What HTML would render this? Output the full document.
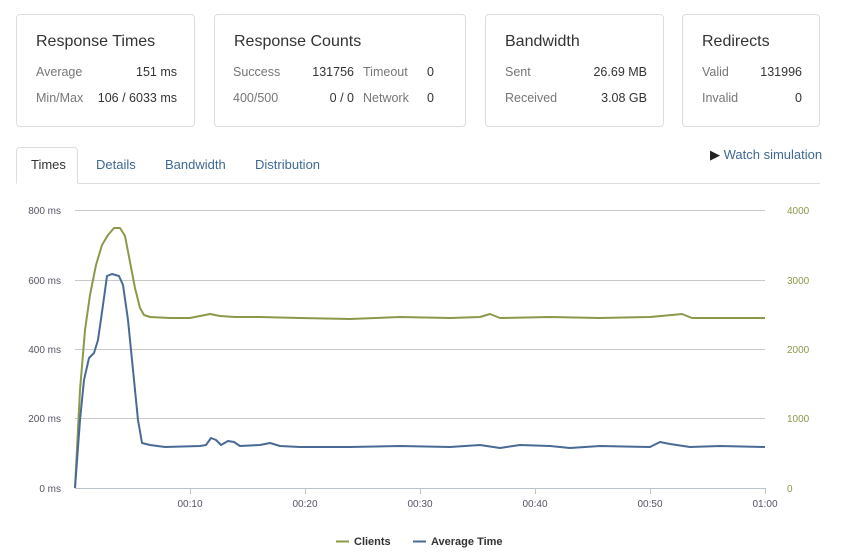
<!DOCTYPE html>
<html><head><meta charset="utf-8"><style>
body{margin:0;width:863px;height:555px;background:#fff;font-family:"Liberation Sans",sans-serif;position:relative;overflow:hidden}
.card{position:absolute;top:14px;height:113px;border:1px solid #ddd;border-radius:4px;box-sizing:border-box}
.card h3{position:absolute;left:19px;top:18px;margin:0;font-weight:normal;font-size:16px;color:#333}
.t{position:absolute;font-size:12.5px;color:#777}
.v{position:absolute;font-size:12.5px;color:#333;text-align:right}
.tab{position:absolute;top:157px;font-size:13px;color:#3d6a93}
</style></head><body>
<div class="card" style="left:16px;width:179px"><h3>Response Times</h3>
<div class="t" style="left:19px;top:50px">Average</div><div class="v" style="right:17px;top:50px">151 ms</div>
<div class="t" style="left:19px;top:76px">Min/Max</div><div class="v" style="right:17px;top:76px">106 / 6033 ms</div></div>
<div class="card" style="left:214px;width:252px"><h3>Response Counts</h3>
<div class="t" style="left:18px;top:50px">Success</div><div class="v" style="left:95px;width:44px;top:50px">131756</div>
<div class="t" style="left:148px;top:50px">Timeout</div><div class="v" style="left:212px;top:50px">0</div>
<div class="t" style="left:18px;top:76px">400/500</div><div class="v" style="left:95px;width:44px;top:76px">0 / 0</div>
<div class="t" style="left:148px;top:76px">Network</div><div class="v" style="left:212px;top:76px">0</div></div>
<div class="card" style="left:485px;width:179px"><h3>Bandwidth</h3>
<div class="t" style="left:19px;top:50px">Sent</div><div class="v" style="right:16px;top:50px">26.69 MB</div>
<div class="t" style="left:19px;top:76px">Received</div><div class="v" style="right:16px;top:76px">3.08 GB</div></div>
<div class="card" style="left:682px;width:138px"><h3>Redirects</h3>
<div class="t" style="left:19px;top:50px">Valid</div><div class="v" style="right:17px;top:50px">131996</div>
<div class="t" style="left:19px;top:76px">Invalid</div><div class="v" style="right:17px;top:76px">0</div></div>
<div style="position:absolute;left:16px;top:183px;width:804px;border-top:1px solid #ddd"></div>
<div style="position:absolute;left:16px;top:147px;width:62px;height:37px;border:1px solid #ddd;border-bottom:1px solid #fff;border-radius:4px 4px 0 0;box-sizing:border-box;background:#fff"></div>
<div class="tab" style="left:31px;color:#333">Times</div>
<div class="tab" style="left:96px">Details</div>
<div class="tab" style="left:165px">Bandwidth</div>
<div class="tab" style="left:255px">Distribution</div>
<div class="tab" style="left:710px;top:147px;font-size:13px"><span style="color:#222">&#9654;</span> Watch simulation</div>
<svg width="863" height="555" style="position:absolute;left:0;top:0" font-family="Liberation Sans,sans-serif">
<g stroke="#c8c8c8" stroke-width="1">
<line x1="75" x2="765" y1="210.5" y2="210.5"/><line x1="75" x2="765" y1="280.5" y2="280.5"/>
<line x1="75" x2="765" y1="349.5" y2="349.5"/><line x1="75" x2="765" y1="418.5" y2="418.5"/>
<line x1="75" x2="765" y1="488.5" y2="488.5" stroke="#b8c4d0"/>
<g stroke="#b8c4d0"><line x1="190.5" x2="190.5" y1="488" y2="494"/><line x1="305.5" x2="305.5" y1="488" y2="494"/><line x1="420.5" x2="420.5" y1="488" y2="494"/><line x1="535.5" x2="535.5" y1="488" y2="494"/><line x1="650.5" x2="650.5" y1="488" y2="494"/><line x1="765.5" x2="765.5" y1="488" y2="494"/></g>
</g>
<g font-size="10" fill="#556" text-anchor="end">
<text x="61" y="214">800 ms</text><text x="61" y="284">600 ms</text><text x="61" y="353">400 ms</text><text x="61" y="422">200 ms</text><text x="61" y="492">0 ms</text></g>
<g font-size="10" fill="#8a9a4a"><text x="787" y="214">4000</text><text x="787" y="284">3000</text><text x="787" y="353">2000</text><text x="787" y="422">1000</text><text x="787" y="492">0</text></g>
<g font-size="10" fill="#556" text-anchor="middle"><text x="190" y="507">00:10</text><text x="305" y="507">00:20</text><text x="420" y="507">00:30</text><text x="535" y="507">00:40</text><text x="650" y="507">00:50</text><text x="765" y="507">01:00</text></g>
<polyline fill="none" stroke="#8a9a4a" stroke-width="2" stroke-linejoin="round" points="75,488 80,390 85,330 90,295 96,265 102,245 108,235 114,228 120,228 125,236 130,262 135,288 140,308 144,315 150,317 170,318 190,318 200,316 210,314 220,316 235,317 260,317 300,318 350,319 400,317 450,318 480,317 490,314 500,318 550,317 600,318 650,317 672,315 682,314 692,318 765,318"/>
<polyline fill="none" stroke="#4a6a96" stroke-width="2" stroke-linejoin="round" points="75,488 80,420 84,380 89,358 94,353 98,340 103,305 107,276 112,274 119,276 123,285 128,320 133,370 138,420 142,443 150,445 165,447 200,446 206,445 211,438 216,440 221,445 228,441 234,442 240,446 260,445 270,443 280,446 300,447 350,447 400,446 450,447 480,445 500,448 520,445 550,446 570,448 600,446 650,447 660,442 670,444 690,447 720,446 765,447"/>
<line x1="336" x2="349" y1="541.5" y2="541.5" stroke="#8a9a4a" stroke-width="2"/>
<text x="354" y="545" font-size="11" font-weight="bold" fill="#333">Clients</text>
<line x1="413" x2="426" y1="541.5" y2="541.5" stroke="#4a6a96" stroke-width="2"/>
<text x="431" y="545" font-size="11" font-weight="bold" fill="#333">Average Time</text>
</svg>
</body></html>
